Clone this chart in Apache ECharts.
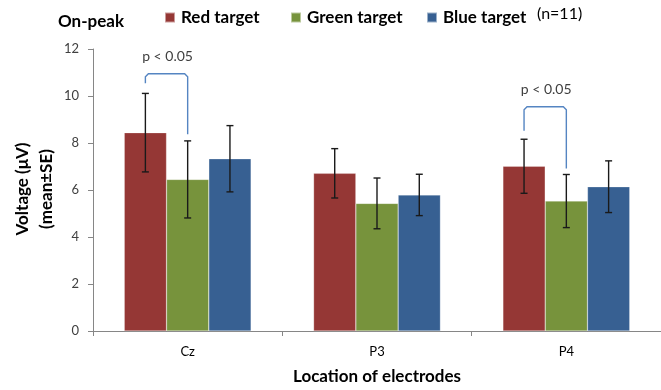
<!DOCTYPE html>
<html>
<head>
<meta charset="utf-8">
<script src="https://cdn.jsdelivr.net/npm/echarts@6/dist/echarts.min.js"></script>
<style>
  html, body { margin: 0; padding: 0; background: #fff; }
  #chart { width: 661px; height: 390px; }
</style>
</head>
<body>
<div id="chart"></div>
<script>
// Mean on-peak voltage per electrode and target colour, with standard errors
const electrodes = ['Cz', 'P3', 'P4'];
const seriesNames = ['Red target', 'Green target', 'Blue target'];
const seriesColors = ['#953735', '#77933c', '#376092'];
const redMean = [8.44, 6.71, 7.01];
const greenMean = [6.45, 5.43, 5.53];
const blueMean = [7.33, 5.79, 6.14];
const redSE = [1.67, 1.05, 1.15];
const greenSE = [1.64, 1.08, 1.13];
const blueSE = [1.41, 0.88, 1.10];
const yTicks = [0, 2, 4, 6, 8, 10, 12];

// Significance brackets: electrode index, left/right series, bracket height, leg ends
const bracketElectrode = [0, 2];
const bracketLeft = [0, 0];
const bracketRight = [1, 1];
const bracketTop = [10.95, 9.54];
const bracketLeftEnd = [10.54, 8.52];
const bracketRightEnd = [8.37, 6.92];
const bracketText = ['p < 0.05', 'p < 0.05'];

const means = [redMean, greenMean, blueMean];
const ses = [redSE, greenSE, blueSE];
const CAT_GAP = 0.33;
const FONT = 'Lato, "Open Sans", sans-serif';
const legendLeft = [159, 285, 421];

function barX(api, cat, sIdx) {
  const c = api.coord([cat, 0]);
  const band = api.size([1, 0])[0];
  const w = band * (1 - CAT_GAP) / 3;
  return c[0] + (sIdx - 1) * w;
}

const barSeries = seriesNames.map((name, i) => ({
  name: name,
  type: 'bar',
  data: means[i],
  barGap: '0%',
  barCategoryGap: (CAT_GAP * 100) + '%',
  itemStyle: { color: seriesColors[i], borderColor: 'rgba(255,255,255,0.5)', borderWidth: 0.5 },
  z: 2
}));

const errSeries = seriesNames.map((name, i) => ({
  type: 'custom',
  name: name + ' SE',
  data: electrodes.map((e, k) => [k, means[i][k], ses[i][k]]),
  z: 5,
  silent: true,
  renderItem: function (params, api) {
    const cat = api.value(0), m = api.value(1), se = api.value(2);
    const x = barX(api, cat, i);
    const yHi = api.coord([cat, m + se])[1];
    const yLo = api.coord([cat, m - se])[1];
    const cap = 3.5;
    const st = { stroke: '#1a1a1a', lineWidth: 1.4 };
    return {
      type: 'group',
      children: [
        { type: 'line', shape: { x1: x, y1: yHi, x2: x, y2: yLo }, style: st },
        { type: 'line', shape: { x1: x - cap, y1: yHi, x2: x + cap, y2: yHi }, style: st },
        { type: 'line', shape: { x1: x - cap, y1: yLo, x2: x + cap, y2: yLo }, style: st }
      ]
    };
  }
}));

const bracketSeries = {
  type: 'custom',
  name: 'brackets',
  silent: true,
  z: 6,
  data: bracketElectrode.map((e, k) => [e, bracketLeft[k], bracketRight[k], bracketTop[k], bracketLeftEnd[k], bracketRightEnd[k], k]),
  renderItem: function (params, api) {
    const cat = api.value(0);
    const xl = barX(api, cat, api.value(1));
    const xr = barX(api, cat, api.value(2));
    const yt = api.coord([cat, api.value(3)])[1];
    const yl = api.coord([cat, api.value(4)])[1];
    const yr = api.coord([cat, api.value(5)])[1];
    const r = 3;
    return {
      type: 'group',
      children: [
        {
          type: 'polyline',
          shape: { points: [[xl, yl], [xl, yt + r], [xl + r, yt], [xr - r, yt], [xr, yt + r], [xr, yr]] },
          style: { stroke: '#5585c2', lineWidth: 1.4, fill: null }
        },
        {
          type: 'text',
          style: {
            text: bracketText[api.value(6)],
            x: (xl + xr) / 2 + 1,
            y: yt - 17,
            align: 'center',
            verticalAlign: 'middle',
            fill: '#404040',
            font: '14px ' + FONT
          }
        }
      ]
    };
  }
};

// One legend block per target so each entry sits at its own spot
const legends = seriesNames.map((name, i) => ({
  data: [name],
  left: legendLeft[i],
  top: 4,
  icon: 'rect',
  itemWidth: 10,
  itemHeight: 10,
  textStyle: { fontFamily: FONT, fontWeight: 'bold', fontSize: 17, color: '#000', padding: [0, 0, 0, 1] },
  selectedMode: false
}));

const chart = echarts.init(document.getElementById('chart'), null, { renderer: 'canvas' });
chart.setOption({
  animation: false,
  backgroundColor: '#ffffff',
  grid: { left: 93, right: -8, top: 49, bottom: 59 },
  legend: legends,
  xAxis: {
    type: 'category',
    data: electrodes,
    axisLine: { lineStyle: { color: '#868686', width: 1 } },
    axisTick: { show: true, length: 5, lineStyle: { color: '#868686' } },
    axisLabel: { color: '#000', fontFamily: FONT, fontSize: 13, margin: 14 },
    name: 'Location of electrodes',
    nameLocation: 'middle',
    nameGap: 37,
    nameTextStyle: { fontFamily: FONT, fontWeight: 'bold', fontSize: 17, color: '#000' }
  },
  yAxis: {
    type: 'value',
    min: yTicks[0],
    max: yTicks[yTicks.length - 1],
    interval: yTicks[1] - yTicks[0],
    axisLine: { show: true, lineStyle: { color: '#868686', width: 1 } },
    axisTick: { show: true, length: 5, lineStyle: { color: '#868686' } },
    splitLine: { show: false },
    axisLabel: { color: '#404040', fontFamily: FONT, fontSize: 13, margin: 14 }
  },
  graphic: [
    {
      type: 'text', left: 58, top: 13,
      style: { text: 'On-peak', font: 'bold 17px ' + FONT, fill: '#000' }
    },
    {
      type: 'text', left: 537, top: 6,
      style: { text: '(n=11)', font: '16px ' + FONT, fill: '#000' }
    },
    {
      type: 'text', x: 23, y: 189, rotation: Math.PI / 2,
      style: { text: 'Voltage (μV)', font: 'bold 17px ' + FONT, fill: '#000', align: 'center', verticalAlign: 'middle' }
    },
    {
      type: 'text', x: 47, y: 189, rotation: Math.PI / 2,
      style: { text: '(mean±SE)', font: 'bold 17px ' + FONT, fill: '#000', align: 'center', verticalAlign: 'middle' }
    }
  ],
  series: barSeries.concat(errSeries, [bracketSeries])
});
</script>
</body>
</html>
